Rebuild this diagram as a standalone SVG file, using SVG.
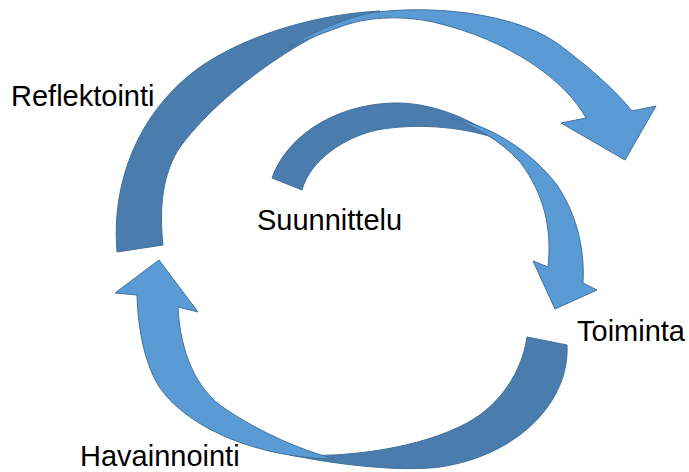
<svg xmlns="http://www.w3.org/2000/svg" width="689" height="472" viewBox="0 0 689 472">
  <style>
    .back { fill: #4A7DAD; stroke: #41719C; stroke-width: 1; stroke-linejoin: round; }
    .front { fill: #5B9BD5; stroke: #41719C; stroke-width: 1; stroke-linejoin: miter; }
    .label { font-family: "Liberation Sans", Arial, sans-serif; font-size: 29px; fill: #000000; }
  </style>
  <rect width="689" height="472" fill="#FFFFFF"/>

  <g id="connectors">
    <!-- Outer arrow: from Reflektointi over the top, pointing down-right -->
    <g id="arrow-reflektointi">
      <path class="back" d="M117,252 C111,180 140,110 200,67 C250,33 320,14 380,11 C320,22 220,90 178,150 C160,180 160,215 163,245 Z"/>
      <path class="front" d="M287,48 C310,34 335,22 365,14 C420,4 520,10 566,50 C590,68 615,90 632,111 L656,106 L625,160 L561,123 L586,118 C565,80 510,40 433,22 C400,15 365,17 340,27 C320,34 300,42 287,48 Z"/>
    </g>
    <!-- Inner arrow: from Suunnittelu down to Toiminta -->
    <g id="arrow-suunnittelu">
      <path class="back" d="M302,190 L272,178 C285,140 330,105 393,103 C430,102 470,118 500,140 C470,128 420,122 377,130 C345,137 310,160 302,190 Z"/>
      <path class="front" d="M450,118 C490,125 530,150 557,185 C575,212 585,245 583,283 L597,290 L555,309 L533,261 L548,267 C552,230 545,195 520,162 C500,140 475,126 450,118 Z"/>
    </g>
    <!-- Lower arrow: from Toiminta round the bottom, up towards Reflektointi -->
    <g id="arrow-toiminta">
      <path class="back" d="M567,345 C570,400 520,455 440,467 C400,472 340,465 290,455 C350,458 420,448 467,423 C500,405 522,372 527,337 Z"/>
      <path class="front" d="M335,459 C260,458 190,430 160,388 C145,365 138,330 137,295 L115,293 L159,260 L198,312 L178,307 C180,350 195,390 227,410 C260,432 300,450 335,459 Z"/>
    </g>
  </g>

  <g id="node-reflektointi"><text class="label" x="11" y="106">Reflektointi</text></g>
  <g id="node-suunnittelu"><text class="label" x="257" y="230">Suunnittelu</text></g>
  <g id="node-toiminta"><text class="label" x="577" y="341">Toiminta</text></g>
  <g id="node-havainnointi"><text class="label" x="80" y="466">Havainnointi</text></g>
</svg>
